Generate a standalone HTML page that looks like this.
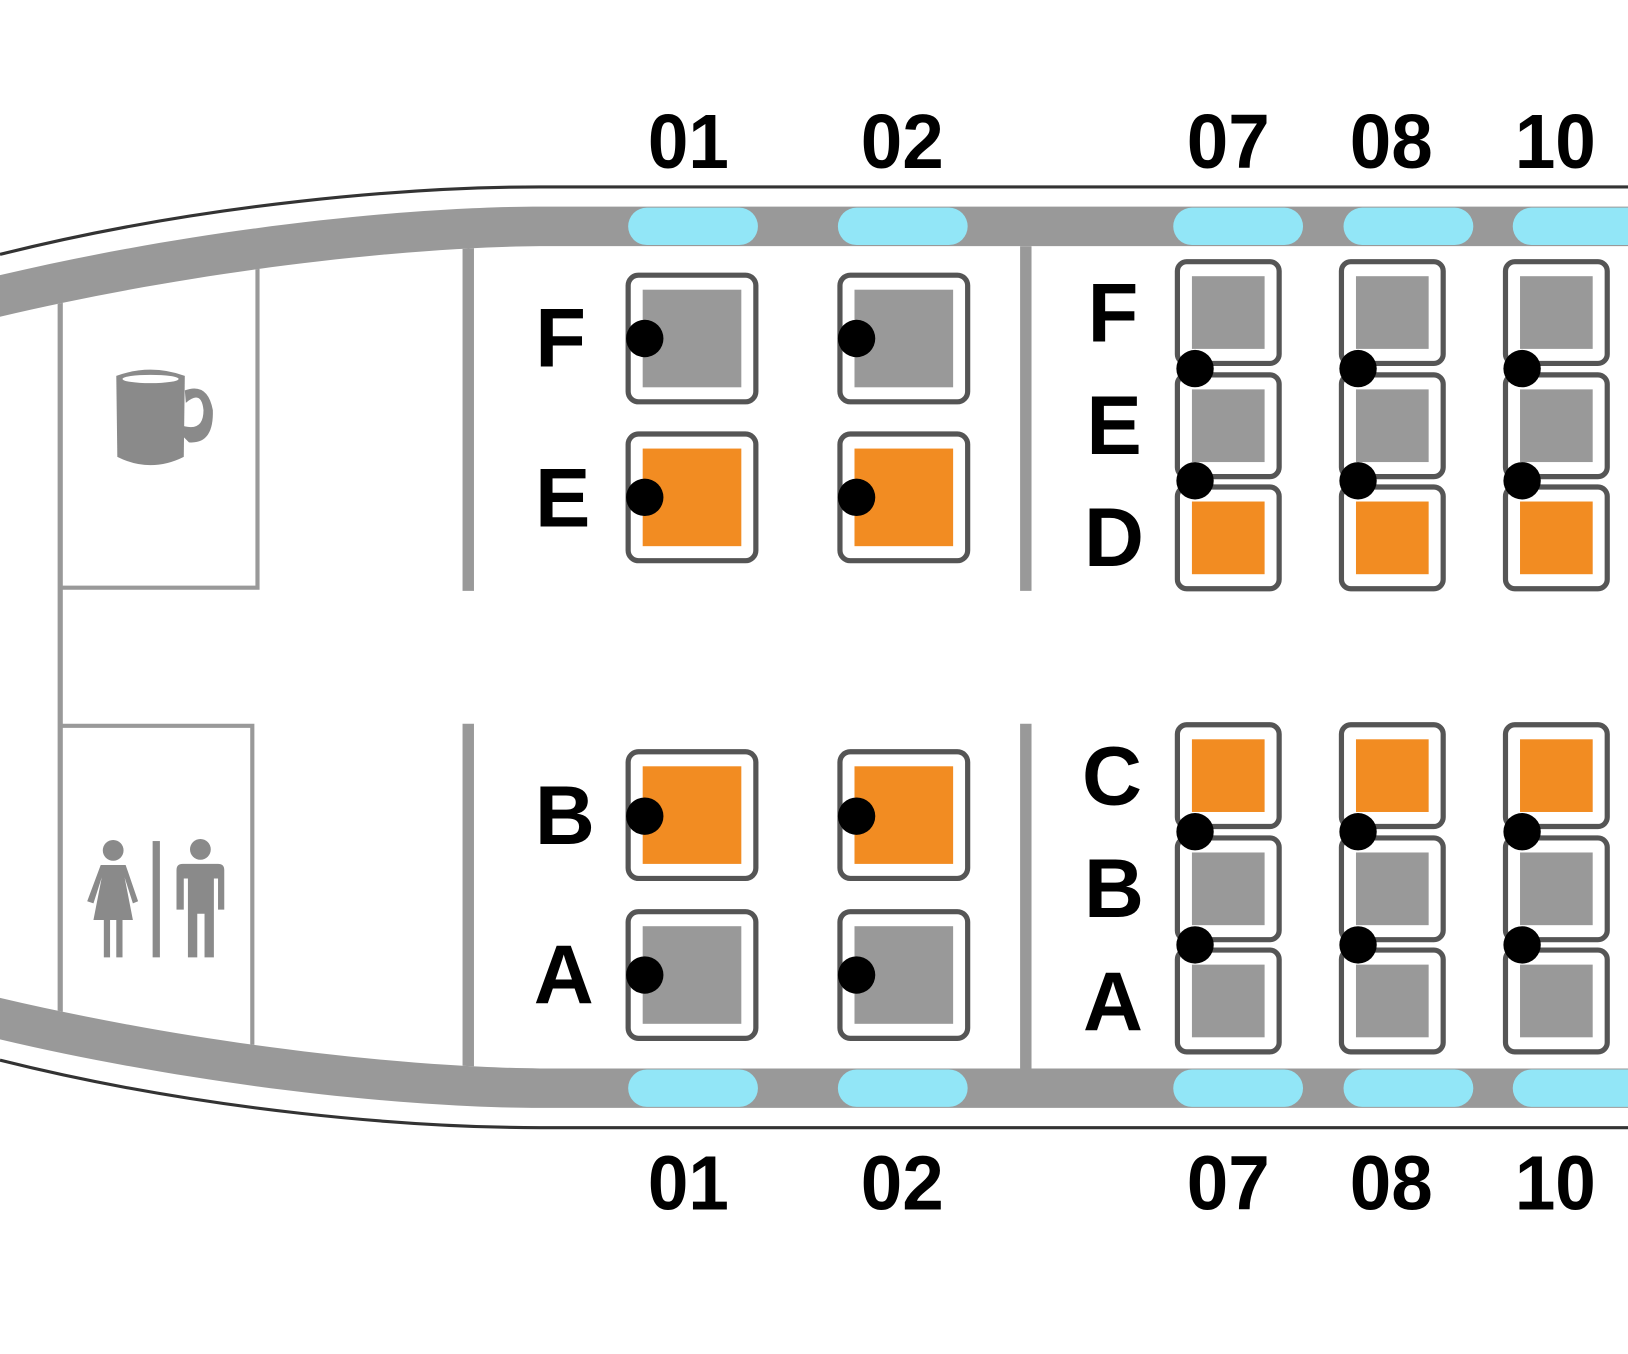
<!DOCTYPE html>
<html><head><style>html,body{margin:0;padding:0;background:#fff}svg{display:block}</style></head>
<body>
<svg width="1628" height="1354" viewBox="0 0 1568 1304" xmlns="http://www.w3.org/2000/svg" preserveAspectRatio="none">
<defs>
<clipPath id="cab"><path d="M0,305 C200,258 400,238 520,237 L1568,237 L1568,1029 L520,1029 C400,1028 200,1008 0,961 Z"/></clipPath>
</defs>
<rect width="1568" height="1304" fill="#fff"/>
<!-- fuselage -->
<path d="M0,245 C200,195 400,180 520,180 L1568,180" fill="none" stroke="#333" stroke-width="3"/>
<path d="M0,1021 C200,1071 400,1086 520,1086 L1568,1086" fill="none" stroke="#333" stroke-width="3"/>
<path d="M0,265 C200,218 400,199 520,199 L1568,199 L1568,237 L520,237 C400,238 200,258 0,305 Z" fill="#999"/>
<path d="M0,1001 C200,1048 400,1067 520,1067 L1568,1067 L1568,1029 L520,1029 C400,1028 200,1008 0,961 Z" fill="#999"/>
<!-- windows -->
<g fill="#92e6f7">
<rect x="605" y="200" width="125" height="36" rx="18"/><rect x="807" y="200" width="125" height="36" rx="18"/>
<rect x="1130" y="200" width="125" height="36" rx="18"/><rect x="1294" y="200" width="125" height="36" rx="18"/>
<rect x="1457" y="200" width="140" height="36" rx="18"/>
<rect x="605" y="1030" width="125" height="36" rx="18"/><rect x="807" y="1030" width="125" height="36" rx="18"/>
<rect x="1130" y="1030" width="125" height="36" rx="18"/><rect x="1294" y="1030" width="125" height="36" rx="18"/>
<rect x="1457" y="1030" width="140" height="36" rx="18"/>
</g>
<!-- walls -->
<g clip-path="url(#cab)" stroke="#999" fill="none">
<line x1="58" y1="230" x2="58" y2="1040" stroke-width="5"/>
<polyline points="248,230 248,566 58,566" stroke-width="4"/>
<polyline points="58,699 243,699 243,1040" stroke-width="4"/>
<line x1="451" y1="230" x2="451" y2="569" stroke-width="11"/>
<line x1="451" y1="697" x2="451" y2="1040" stroke-width="11"/>
<line x1="988" y1="230" x2="988" y2="569" stroke-width="11"/>
<line x1="988" y1="697" x2="988" y2="1040" stroke-width="11"/>
</g>
<!-- mug -->
<g fill="#8a8a8a">
<path d="M112,362 Q145,350 178,362 L177,440 Q145,456 113,440 Z"/>
<path d="M178,376 Q200,368 205,395 Q206,428 182,426 L176,420 L176,410 Q196,416 196,395 Q194,375 179,388 Z" />
<ellipse cx="145" cy="365" rx="27" ry="4" fill="#fff"/>
</g>
<!-- lavatory figures -->
<g fill="#8a8a8a">
<circle cx="109" cy="819" r="10"/>
<path d="M97,833 L121,833 L133,868 L128,870 L120,845 L128,886 L118,886 L118,922 L112,922 L112,886 L106,886 L106,922 L100,922 L100,886 L90,886 L98,845 L90,870 L84,868 Z"/>
<rect x="147" y="810" width="7" height="112"/>
<circle cx="193" cy="818" r="10"/>
<path d="M176,832 L210,832 Q216,832 216,838 L216,876 L210,876 L210,846 L206,846 L206,922 L197,922 L197,880 L190,880 L190,922 L181,922 L181,846 L177,846 L177,876 L170,876 L170,838 Q170,832 176,832 Z"/>
</g>
<!-- seats -->
<g id="seats">
<g stroke="#555" stroke-width="5" fill="#fff">
<rect x="605" y="265" width="123" height="122" rx="10"/><rect x="809" y="265" width="123" height="122" rx="10"/>
<rect x="605" y="418" width="123" height="122" rx="10"/><rect x="809" y="418" width="123" height="122" rx="10"/>
<rect x="605" y="724" width="123" height="122" rx="10"/><rect x="809" y="724" width="123" height="122" rx="10"/>
<rect x="605" y="878" width="123" height="122" rx="10"/><rect x="809" y="878" width="123" height="122" rx="10"/>
</g>
<g fill="#999"><rect x="619" y="279" width="95" height="94"/><rect x="823" y="279" width="95" height="94"/>
<rect x="619" y="892" width="95" height="94"/><rect x="823" y="892" width="95" height="94"/></g>
<g fill="#f28c22"><rect x="619" y="432" width="95" height="94"/><rect x="823" y="432" width="95" height="94"/>
<rect x="619" y="738" width="95" height="94"/><rect x="823" y="738" width="95" height="94"/></g>
</g>
<g stroke="#555" stroke-width="5" fill="#fff">
<rect x="1134" y="252" width="98" height="98" rx="9"/><rect x="1134" y="361" width="98" height="98" rx="9"/><rect x="1134" y="469" width="98" height="98" rx="9"/>
<rect x="1292" y="252" width="98" height="98" rx="9"/><rect x="1292" y="361" width="98" height="98" rx="9"/><rect x="1292" y="469" width="98" height="98" rx="9"/>
<rect x="1450" y="252" width="98" height="98" rx="9"/><rect x="1450" y="361" width="98" height="98" rx="9"/><rect x="1450" y="469" width="98" height="98" rx="9"/>
<rect x="1134" y="698" width="98" height="98" rx="9"/><rect x="1134" y="807" width="98" height="98" rx="9"/><rect x="1134" y="915" width="98" height="98" rx="9"/>
<rect x="1292" y="698" width="98" height="98" rx="9"/><rect x="1292" y="807" width="98" height="98" rx="9"/><rect x="1292" y="915" width="98" height="98" rx="9"/>
<rect x="1450" y="698" width="98" height="98" rx="9"/><rect x="1450" y="807" width="98" height="98" rx="9"/><rect x="1450" y="915" width="98" height="98" rx="9"/>
</g>
<g fill="#999">
<rect x="1148" y="266" width="70" height="70"/><rect x="1148" y="375" width="70" height="70"/>
<rect x="1306" y="266" width="70" height="70"/><rect x="1306" y="375" width="70" height="70"/>
<rect x="1464" y="266" width="70" height="70"/><rect x="1464" y="375" width="70" height="70"/>
<rect x="1148" y="821" width="70" height="70"/><rect x="1148" y="929" width="70" height="70"/>
<rect x="1306" y="821" width="70" height="70"/><rect x="1306" y="929" width="70" height="70"/>
<rect x="1464" y="821" width="70" height="70"/><rect x="1464" y="929" width="70" height="70"/>
</g>
<g fill="#f28c22">
<rect x="1148" y="483" width="70" height="70"/><rect x="1306" y="483" width="70" height="70"/><rect x="1464" y="483" width="70" height="70"/>
<rect x="1148" y="712" width="70" height="70"/><rect x="1306" y="712" width="70" height="70"/><rect x="1464" y="712" width="70" height="70"/>
</g>
<!-- dots -->
<g fill="#000">
<circle cx="621" cy="326" r="18"/><circle cx="825" cy="326" r="18"/>
<circle cx="621" cy="479" r="18"/><circle cx="825" cy="479" r="18"/>
<circle cx="621" cy="786" r="18"/><circle cx="825" cy="786" r="18"/>
<circle cx="621" cy="939" r="18"/><circle cx="825" cy="939" r="18"/>
<circle cx="1151" cy="355" r="18"/><circle cx="1151" cy="463" r="18"/>
<circle cx="1308" cy="355" r="18"/><circle cx="1308" cy="463" r="18"/>
<circle cx="1466" cy="355" r="18"/><circle cx="1466" cy="463" r="18"/>
<circle cx="1151" cy="801" r="18"/><circle cx="1151" cy="910" r="18"/>
<circle cx="1308" cy="801" r="18"/><circle cx="1308" cy="910" r="18"/>
<circle cx="1466" cy="801" r="18"/><circle cx="1466" cy="910" r="18"/>
</g>
<!-- labels -->
<g font-family="Liberation Sans, sans-serif" font-weight="bold" fill="#000" text-anchor="middle">
<g font-size="74">
<text x="663" y="162" textLength="78" lengthAdjust="spacingAndGlyphs">01</text>
<text x="869" y="162" textLength="80" lengthAdjust="spacingAndGlyphs">02</text>
<text x="1183" y="162" textLength="80" lengthAdjust="spacingAndGlyphs">07</text>
<text x="1340" y="162" textLength="80" lengthAdjust="spacingAndGlyphs">08</text>
<text x="1498" y="162" textLength="78" lengthAdjust="spacingAndGlyphs">10</text>
<text x="663" y="1165" textLength="78" lengthAdjust="spacingAndGlyphs">01</text>
<text x="869" y="1165" textLength="80" lengthAdjust="spacingAndGlyphs">02</text>
<text x="1183" y="1165" textLength="80" lengthAdjust="spacingAndGlyphs">07</text>
<text x="1340" y="1165" textLength="80" lengthAdjust="spacingAndGlyphs">08</text>
<text x="1498" y="1165" textLength="78" lengthAdjust="spacingAndGlyphs">10</text>
</g>
<g font-size="80">
<text x="540" y="353">F</text>
<text x="542" y="507">E</text>
<text x="544" y="813">B</text>
<text x="543" y="966">A</text>
<text x="1072" y="329">F</text>
<text x="1073" y="437">E</text>
<text x="1073" y="545">D</text>
<text x="1071" y="775">C</text>
<text x="1073" y="883">B</text>
<text x="1072" y="992">A</text>
</g>
</g>
</svg>
</body></html>
